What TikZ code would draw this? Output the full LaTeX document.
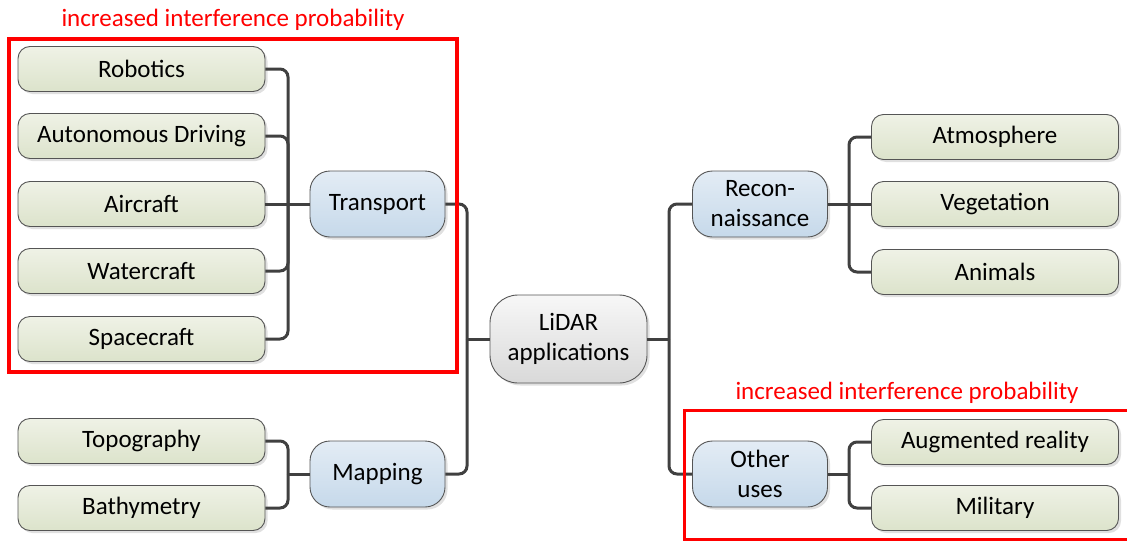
\documentclass[tikz,border=0pt]{standalone}
\usepackage{fontspec}
\setmainfont{Carlito}
\usetikzlibrary{shadows}
\definecolor{leafTop}{HTML}{EFF2E6}
\definecolor{leafBot}{HTML}{DCE3CB}
\definecolor{catTop}{HTML}{E3ECF5}
\definecolor{catBot}{HTML}{C6D9EA}
\definecolor{rootTop}{HTML}{F7F7F7}
\definecolor{rootBot}{HTML}{D9D9D9}
\definecolor{edge}{HTML}{404040}
\definecolor{rim}{HTML}{555555}
\definecolor{alert}{HTML}{FF0000}
\tikzset{
  base/.style={draw=rim, line width=0.9pt, align=center, inner sep=0pt,
    font=\fontsize{25}{30}\selectfont,
    drop shadow={shadow xshift=2.5pt, shadow yshift=-2.5pt, fill=black, opacity=0.12}},
  leaf/.style={base, rounded corners=12pt, minimum width=247pt, minimum height=45pt,
    top color=leafTop, bottom color=leafBot},
  cat/.style={base, rounded corners=20pt, minimum width=135pt, minimum height=66pt,
    top color=catTop, bottom color=catBot},
  root/.style={base, rounded corners=28pt, minimum width=157pt, minimum height=88pt,
    top color=rootTop, bottom color=rootBot},
  conn/.style={draw=edge, line width=3pt, rounded corners=8pt},
  zone/.style={draw=alert},
  zonelabel/.style={text=alert, font=\fontsize{25}{30}\selectfont},
}
\begin{document}
\begin{tikzpicture}[x=1pt, y=-1pt]
\useasboundingbox (0,0) rectangle (1127,541);
\clip (0,0) rectangle (1127,541);

% junction points on the connector buses
\coordinate (tj) at (288,204);
\coordinate (mj) at (288,474);
\coordinate (lj) at (467,339);
\coordinate (rj) at (669,339);
\coordinate (sj) at (849,204);
\coordinate (oj) at (849,474);

% left branch leaves
\node[leaf] (rob)  at (141.5,69)  {Robotics};
\node[leaf] (auto) at (141.5,136) {Autonomous Driving};
\node[leaf] (air)  at (141.5,204) {Aircraft};
\node[leaf] (wat)  at (141.5,271) {Watercraft};
\node[leaf] (spa)  at (141.5,339) {Spacecraft};
\node[leaf] (topo) at (141.5,441) {Topography};
\node[leaf] (bath) at (141.5,508) {Bathymetry};

% categories and root
\node[cat] (trans) at (377.5,204) {Transport};
\node[cat] (map)   at (377.5,474) {Mapping};
\node[root] (lidar) at (568.5,339) {LiDAR\\applications};
\node[cat] (recon) at (760,204) {Recon-\\naissance};
\node[cat] (other) at (760,474) {Other\\uses};

% right branch leaves
\node[leaf] (atm) at (995,137) {Atmosphere};
\node[leaf] (veg) at (995,204) {Vegetation};
\node[leaf] (ani) at (995,272) {Animals};
\node[leaf] (aug) at (995,442) {Augmented reality};
\node[leaf] (mil) at (995,508) {Military};

% transport group
\draw[conn] (rob.east)  -| (tj);
\draw[conn] (auto.east) -| (tj);
\draw[conn] (wat.east)  -| (tj);
\draw[conn] (spa.east)  -| (tj);
\draw[conn] (air.east)  -- (trans.west);

% mapping group
\draw[conn] (topo.east) -| (mj);
\draw[conn] (bath.east) -| (mj);
\draw[conn] (mj) -- (map.west);

% root links
\draw[conn] (trans.east) -| (lj);
\draw[conn] (map.east)   -| (lj);
\draw[conn] (lj) -- (lidar.west);
\draw[conn] (lidar.east) -- (rj);
\draw[conn] (rj) |- (recon.west);
\draw[conn] (rj) |- (other.west);

% reconnaissance group
\draw[conn] (recon.east) -- (veg.west);
\draw[conn] (sj) |- (atm.west);
\draw[conn] (sj) |- (ani.west);

% other uses group
\draw[conn] (other.east) -- (oj);
\draw[conn] (oj) |- (aug.west);
\draw[conn] (oj) |- (mil.west);

% interference zones
\draw[zone, line width=4pt] (9,39) rectangle (457,372);
\node[zonelabel] (zl) at (233,20) {increased interference probability};
\draw[zone, line width=3pt] (684,410) rectangle (1140,539);
\node[zonelabel] (zr) at (907,393) {increased interference probability};
\end{tikzpicture}
\end{document}
